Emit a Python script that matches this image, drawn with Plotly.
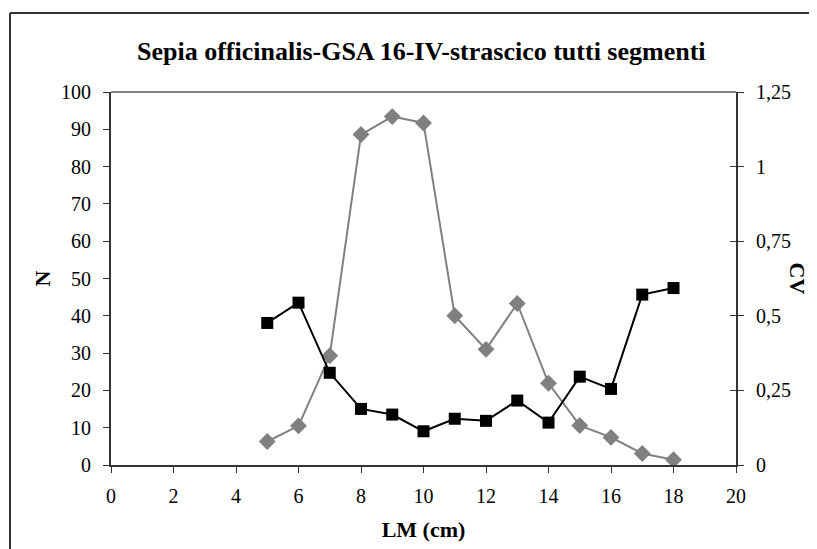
import plotly.graph_objects as go

title_text = "Sepia officinalis-GSA 16-IV-strascico tutti segmenti"
lm = [5, 6, 7, 8, 9, 10, 11, 12, 13, 14, 15, 16, 17, 18]
n_values = [6.3, 10.5, 29.3, 88.6, 93.4, 91.7, 40.0, 31.0, 43.3, 21.9, 10.6, 7.4, 3.1, 1.4]
cv_values = [0.476, 0.544, 0.309, 0.188, 0.169, 0.113, 0.155, 0.148, 0.216, 0.142, 0.296, 0.255, 0.571, 0.593]
x_ticks = [0, 2, 4, 6, 8, 10, 12, 14, 16, 18, 20]
n_ticks = [0, 10, 20, 30, 40, 50, 60, 70, 80, 90, 100]
cv_ticks = [0, 0.25, 0.5, 0.75, 1, 1.25]
cv_ticktext = ["0", "0,25", "0,5", "0,75", "1", "1,25"]

FONT = "Liberation Serif"
OFF = 8  # page body margin
W, H = 817 - OFF, 549 - OFF
L, R, T, B = 111 - OFF, 736 - OFF, 92 - OFF, 465 - OFF

fig = go.Figure()
fig.add_trace(go.Scatter(
    x=lm, y=n_values, mode="lines+markers", name="N",
    line=dict(color="#808080", width=2),
    marker=dict(symbol="diamond", size=13, color="#808080"),
    yaxis="y", showlegend=False))
fig.add_trace(go.Scatter(
    x=lm, y=cv_values, mode="lines+markers", name="CV",
    line=dict(color="#000000", width=2),
    marker=dict(symbol="square", size=12, color="#000000"),
    yaxis="y2", showlegend=False))
fig.add_trace(go.Scatter(x=[None], y=[None], yaxis="y3", showlegend=False, hoverinfo="skip"))

tickfont = dict(family=FONT, size=20, color="#000000")
fig.update_layout(
    width=W, height=H,
    margin=dict(l=L, r=W - R, t=T, b=H - B, pad=0),
    paper_bgcolor="white", plot_bgcolor="white",
    font=dict(family=FONT, color="#000000"),
    xaxis=dict(range=[0, 20], tickvals=x_ticks, ticks="outside", ticklen=6,
               tickcolor="#333333", showline=True, linecolor="#333333", linewidth=2,
               showgrid=False, zeroline=False, tickfont=tickfont, ticklabelstandoff=6,
               title=dict(text="<b>LM (cm)</b>", font=dict(family=FONT, size=22), standoff=16)),
    yaxis=dict(range=[0, 100], tickvals=n_ticks, ticks="outside", ticklen=6,
               tickcolor="#333333", showline=True, linecolor="#333333", linewidth=2,
               showgrid=False, zeroline=False, tickfont=tickfont, ticklabelstandoff=8),
    yaxis2=dict(range=[0, 1.25], tickvals=cv_ticks, ticktext=cv_ticktext, overlaying="y",
                side="right", ticks="outside", ticklen=6, tickcolor="#333333",
                showline=True, linecolor="#333333", linewidth=2, showgrid=False,
                zeroline=False, tickfont=tickfont, ticklabelstandoff=8),
    yaxis3=dict(range=[0, 1.25], tickvals=cv_ticks, overlaying="y", side="right",
                ticks="inside", ticklen=6, tickcolor="#333333", showline=False,
                showgrid=False, zeroline=False, showticklabels=False),
)

pw, ph = R - L, B - T
def px(x):
    return (x - OFF - L) / pw
def py(y):
    return (B - (y - OFF)) / ph

fig.add_shape(type="line", xref="paper", yref="paper", x0=px(10), x1=px(830), y0=py(13), y1=py(13),
              line=dict(color="#333333", width=2))
fig.add_shape(type="line", xref="paper", yref="paper", x0=px(10), x1=px(10), y0=py(13), y1=py(560),
              line=dict(color="#333333", width=2))
fig.add_shape(type="line", xref="paper", yref="paper", x0=0, x1=1, y0=1, y1=1,
              line=dict(color="#808080", width=2))

fig.add_annotation(text="<b>" + title_text + "</b>", xref="paper", yref="paper",
                   x=px(421), y=py(52), showarrow=False, xanchor="center", yanchor="middle",
                   font=dict(family=FONT, size=26, color="#000000"))
fig.add_annotation(text="<b>N</b>", xref="paper", yref="paper", x=px(42), y=0.5,
                   showarrow=False, textangle=-90, xanchor="center", yanchor="middle",
                   font=dict(family=FONT, size=22, color="#000000"))
fig.add_annotation(text="<b>CV</b>", xref="paper", yref="paper", x=px(797), y=0.5,
                   showarrow=False, textangle=90, xanchor="center", yanchor="middle",
                   font=dict(family=FONT, size=22, color="#000000"))

fig.write_html("out.html")
